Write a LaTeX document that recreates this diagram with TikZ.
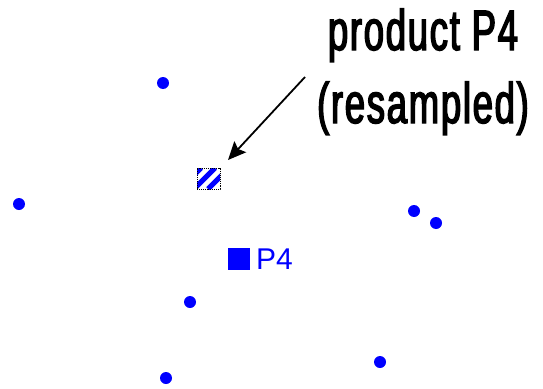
\documentclass[tikz,border=0pt]{standalone}
\usepackage{fontspec}
\setmainfont{Liberation Sans}
\newfontfamily\condfont[FakeStretch=0.64,FakeBold=2.5,LetterSpace=3]{Liberation Sans}
\usetikzlibrary{arrows.meta}
\definecolor{ptblue}{RGB}{0,0,255}
\tikzset{
  dot/.style={circle,fill=ptblue,inner sep=0pt,minimum size=12pt},
  prodsq/.style={rectangle,fill=ptblue,inner sep=0pt,minimum size=22pt},
  hatchsq/.style={rectangle,draw=black,densely dotted,line width=0.9pt,inner sep=0pt,minimum width=23pt,minimum height=21pt},
  lbl/.style={text=ptblue,font=\fontsize{30}{34}\selectfont,inner sep=0pt},
  title/.style={font=\condfont\fontsize{57}{73}\selectfont,align=center,inner sep=0pt},
  pointer/.style={line width=1.8pt,-{Stealth[length=18pt,width=16pt,inset=3pt]}}
}
\begin{document}
\begin{tikzpicture}[x=1pt,y=-1pt]
\useasboundingbox (0,0) rectangle (543,388);
% scattered points
\node[dot] (d1) at (163,83) {};
\node[dot] (d2) at (19,204) {};
\node[dot] (d3) at (414,211) {};
\node[dot] (d4) at (436,223) {};
\node[dot] (d5) at (190,302) {};
\node[dot] (d6) at (380,362) {};
\node[dot] (d7) at (166,378) {};
% product P4
\node[prodsq] (p4) at (238.5,258.5) {};
\node[lbl,anchor=base west] (p4lbl) at (256,269) {P4};
% resampled product
\begin{scope}
\clip (197,168) rectangle (220,189);
\foreach \c in {369,383,397,411} {
  \draw[ptblue,line width=5pt] (\c-168,168) -- (\c-189,189);
}
\end{scope}
\node[hatchsq] (hatch) at (208.5,178.5) {};
% title and pointer
\node[title,anchor=base] (title) at (423,123) {product P4\\(resampled)};
\coordinate (start) at (305,77);
\coordinate (tip) at (228,160);
\draw[pointer] (start) -- (tip);
\end{tikzpicture}
\end{document}
